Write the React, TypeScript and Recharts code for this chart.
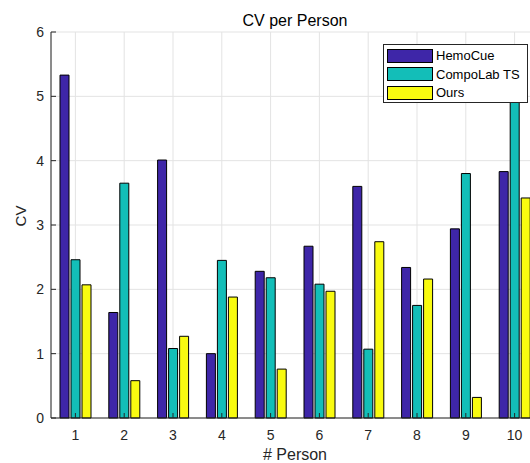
import React from "react"
import { BarChart, Bar, XAxis, YAxis, CartesianGrid, Legend } from "recharts"

// values
const persons = ["1", "2", "3", "4", "5", "6", "7", "8", "9", "10"]
const hemoCue = [5.33, 1.64, 4.01, 1.0, 2.28, 2.67, 3.6, 2.34, 2.94, 3.83]
const compoLab = [2.46, 3.65, 1.08, 2.45, 2.18, 2.08, 1.07, 1.75, 3.8, 5.3]
const ours = [2.07, 0.58, 1.27, 1.88, 0.76, 1.97, 2.74, 2.16, 0.32, 3.42]
const yTicks = [0, 1, 2, 3, 4, 5, 6]

const series = [
  { key: "hemoCue", name: "HemoCue", color: "#3e26a8" },
  { key: "compoLab", name: "CompoLab TS", color: "#13beb8" },
  { key: "ours", name: "Ours", color: "#f9fb10" },
]

const data = persons.map((p, i) => ({
  person: p,
  hemoCue: hemoCue[i],
  compoLab: compoLab[i],
  ours: ours[i],
}))

const FONT = "'Liberation Sans', Arial, Helvetica, sans-serif"
const INK = "#262626"

function LegendBox() {
  return (
    <div
      style={{
        width: 145,
        height: 59,
        boxSizing: "border-box",
        border: `1px solid ${INK}`,
        background: "#fff",
        padding: "1.5px 0 0 3px",
        fontFamily: FONT,
        fontSize: 13,
        color: "#000",
      }}
    >
      {series.map((s) => (
        <div key={s.key} style={{ display: "flex", alignItems: "center", height: 18.5 }}>
          <span
            style={{
              display: "inline-block",
              width: 44,
              height: 12,
              background: s.color,
              border: "1px solid #000",
              marginRight: 3,
            }}
          />
          <span>{s.name}</span>
        </div>
      ))}
    </div>
  )
}

export default function App() {
  return (
    <div
      style={{
        position: "absolute",
        left: 0,
        top: 0,
        width: 530,
        height: 463,
        overflow: "hidden",
        background: "#fff",
        fontFamily: FONT,
      }}
    >
      <BarChart
        width={560}
        height={463}
        data={data}
        margin={{ top: 32, right: 21, bottom: 0, left: 0 }}
        barSize={9}
        barGap={2}
      >
        <CartesianGrid stroke="#e3e3e3" strokeWidth={1} />
        <XAxis
          dataKey="person"
          height={45}
          interval={0}
          tickSize={-5}
          tickMargin={17}
          tick={{ fill: INK, fontSize: 14, fontFamily: FONT }}
          axisLine={{ stroke: INK }}
          tickLine={{ stroke: INK }}
        />
        <XAxis
          xAxisId="top"
          dataKey="person"
          orientation="top"
          height={0}
          interval={0}
          tickSize={-5}
          tick={false}
          axisLine={{ stroke: INK }}
          tickLine={{ stroke: INK }}
        />
        <YAxis
          type="number"
          domain={[0, 6]}
          ticks={yTicks}
          interval={0}
          width={51}
          tickSize={-5}
          tickMargin={12}
          tick={{ fill: INK, fontSize: 14, fontFamily: FONT }}
          axisLine={{ stroke: INK }}
          tickLine={{ stroke: INK }}
        />
        <Legend
          layout="vertical"
          align="center"
          verticalAlign="middle"
          content={() => <LegendBox />}
          wrapperStyle={{ position: "absolute", left: 383, top: 44, width: 145, height: 59 }}
        />
        {series.map((s) => (
          <Bar
            key={s.key}
            dataKey={s.key}
            name={s.name}
            fill={s.color}
            stroke="#000"
            strokeWidth={1}
            isAnimationActive={false}
          />
        ))}
      </BarChart>
      <svg
        width={530}
        height={463}
        style={{ position: "absolute", left: 0, top: 0, pointerEvents: "none" }}
      >
        <text x={295} y={26} textAnchor="middle" fontSize={16} fill="#000" fontFamily={FONT}>
          CV per Person
        </text>
        <text x={295} y={460} textAnchor="middle" fontSize={16} fill={INK} fontFamily={FONT}>
          # Person
        </text>
        <text
          transform="translate(25.5,216) rotate(-90)"
          textAnchor="middle"
          fontSize={15}
          fill={INK}
          fontFamily={FONT}
        >
          CV
        </text>
      </svg>
    </div>
  )
}
